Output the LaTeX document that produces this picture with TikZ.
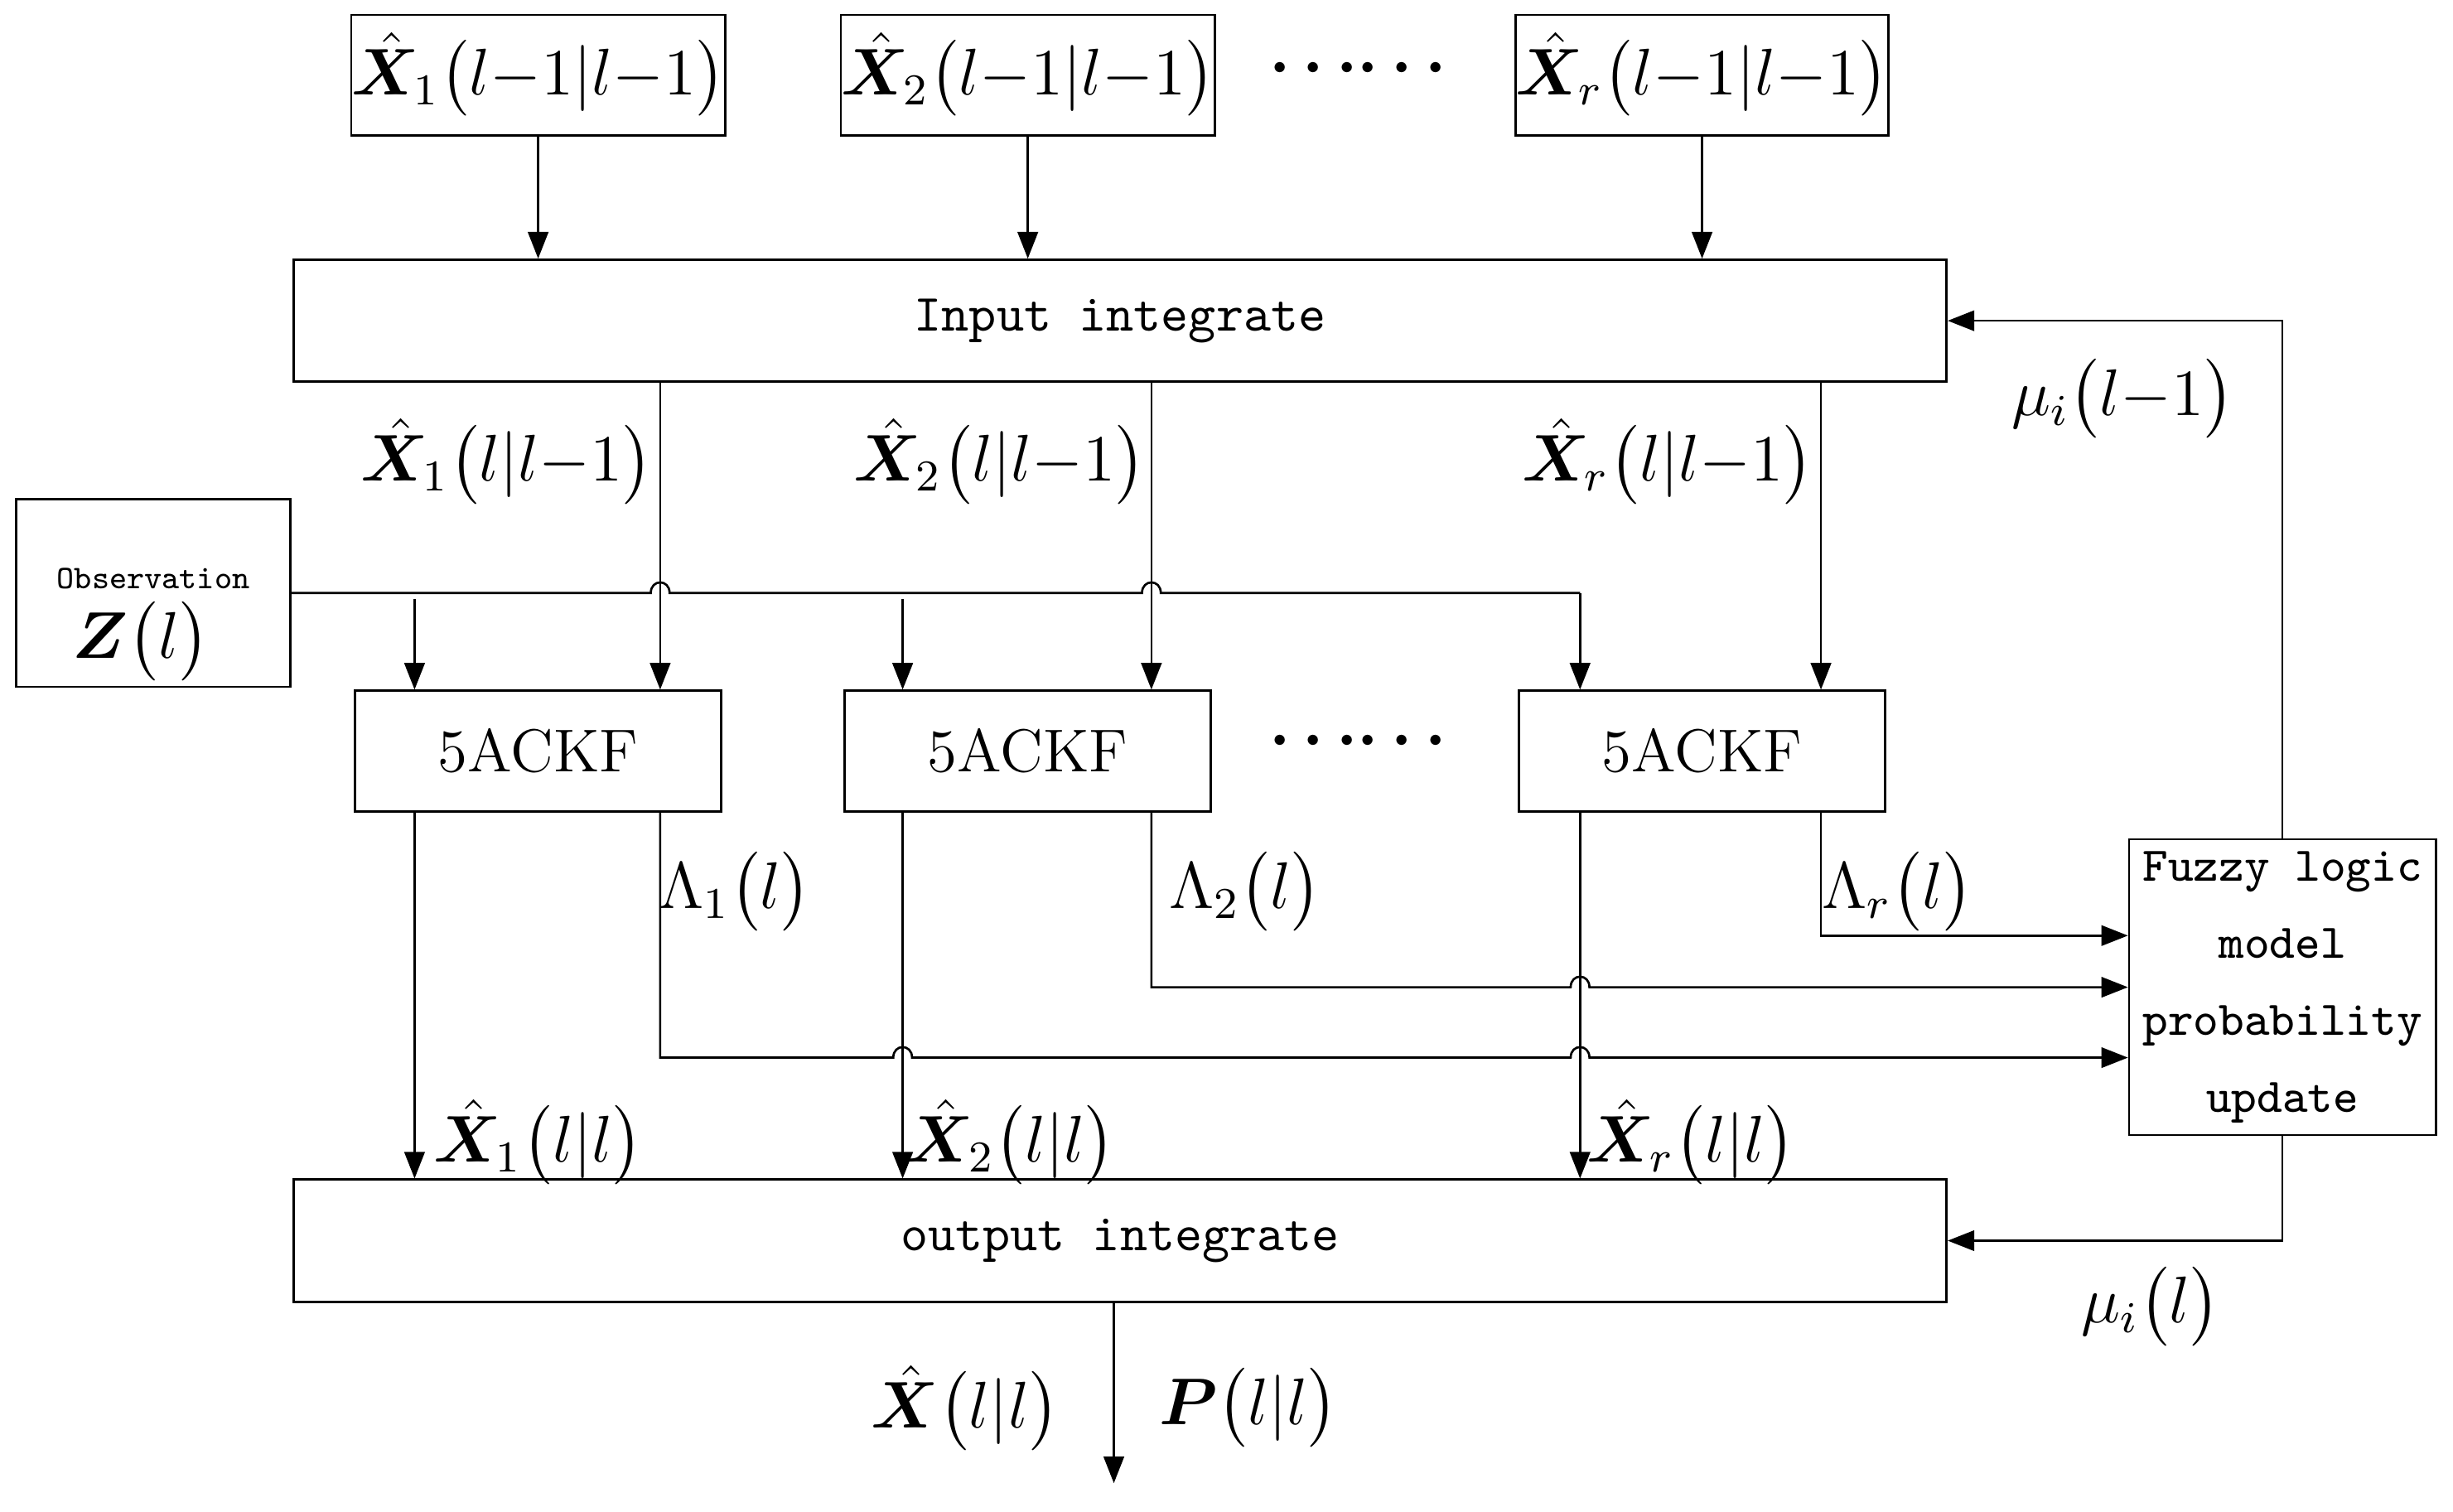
\documentclass[tikz,border=0pt]{standalone}
\usepackage{amsmath,amssymb,bm}
\usepackage{tikz}
\usetikzlibrary{arrows.meta,calc}
\newcommand{\Xh}{\hat{\bm{X}}}

\begin{document}
\begin{tikzpicture}[x=0.01cm,y=-0.01cm,
    every node/.style={font=\fontsize{12}{14}\selectfont},
    box/.style={draw,minimum width=2.34cm,minimum height=0.77cm,inner sep=0pt},
    bar/.style={draw,minimum width=10.56cm,minimum height=0.78cm,inner sep=0pt,font=\ttfamily\fontsize{9.5}{11}\selectfont},
    arr/.style={-{Triangle[length=1.7mm,width=1.3mm]}},
    lbl/.style={inner sep=0pt}]

    \useasboundingbox (0,0) rectangle (1568,966);

    % estimates of the previous step
    \node[box,font=\fontsize{11.5}{14}\selectfont] (top1) at (344,48) {$\Xh_1\bigl(l{-}1|l{-}1\bigr)$};
    \node[box,font=\fontsize{11.5}{14}\selectfont] (top2) at (657,48) {$\Xh_2\bigl(l{-}1|l{-}1\bigr)$};
    \node[box,font=\fontsize{11.5}{14}\selectfont] (topr) at (1088,48) {$\Xh_r\bigl(l{-}1|l{-}1\bigr)$};
    \node[lbl] (dotsa) at (872,44) {$\boldsymbol{\cdots\cdots}$};

    \node[bar] (inp) at (716,205) {Input integrate};

    \draw[arr] (top1.south) -- (top1.south |- inp.north);
    \draw[arr] (top2.south) -- (top2.south |- inp.north);
    \draw[arr] (topr.south) -- (topr.south |- inp.north);

    % observation
    \node[draw,minimum width=1.75cm,minimum height=1.2cm,inner sep=0pt] (obs) at (98,379) {};
    \node[lbl,font=\ttfamily\fontsize{6}{7}\selectfont] (obst) at (98,370) {Observation};
    \node[lbl] (obsz) at (90,410) {$\bm{Z}\bigl(l\bigr)$};

    % filters
    \node[box,font=\fontsize{11}{13}\selectfont] (kf1) at (344,480) {5ACKF};
    \node[box,font=\fontsize{11}{13}\selectfont] (kf2) at (657,480) {5ACKF};
    \node[box,font=\fontsize{11}{13}\selectfont] (kfr) at (1088,480) {5ACKF};
    \node[lbl] (dotsb) at (872,474) {$\boldsymbol{\cdots\cdots}$};

    \coordinate (p1) at (422,243);
    \coordinate (p2) at (736,243);
    \coordinate (pr) at (1164,243);
    \draw[arr] (p1) -- (p1 |- kf1.north);
    \draw[arr] (p2) -- (p2 |- kf2.north);
    \draw[arr] (pr) -- (pr |- kfr.north);
    \node[lbl] (lp1) at (324,295) {$\Xh_1\bigl(l|l{-}1\bigr)$};
    \node[lbl] (lp2) at (639,295) {$\Xh_2\bigl(l|l{-}1\bigr)$};
    \node[lbl] (lpr) at (1066,295) {$\Xh_r\bigl(l|l{-}1\bigr)$};

    % observation line with hops
    \coordinate (z1) at (265,379);
    \coordinate (z2) at (577,379);
    \coordinate (zr) at (1010,379);
    \draw (obs.east |- z1) -- (416,379) .. controls +(0,-9) and +(0,-9) .. (428,379)
        -- (730,379) .. controls +(0,-9) and +(0,-9) .. (742,379) -- (zr);
    \draw[arr] (zr) -- (zr |- kfr.north);
    \draw[arr] ($(z1)+(0,4)$) -- (z1 |- kf1.north);
    \draw[arr] ($(z2)+(0,4)$) -- (z2 |- kf2.north);

    % fuzzy logic
    \node[draw,minimum width=1.96cm,minimum height=1.89cm,inner sep=0pt,align=center,
          font=\ttfamily\fontsize{8.8}{14}\selectfont] (fuz) at (1459,631)
          {Fuzzy logic\\model\\probability\\update};

    \node[bar] (out) at (716,793) {output integrate};

    % filtered estimates
    \draw[arr] (z1 |- kf1.south) -- (z1 |- out.north);
    \draw[arr] (z2 |- kf2.south) -- (z2 |- out.north);
    \draw[arr] (zr |- kfr.south) -- (zr |- out.north);
    \node[lbl] (lf1) at (344,730) {$\Xh_1\bigl(l|l\bigr)$};
    \node[lbl] (lf2) at (646,730) {$\Xh_2\bigl(l|l\bigr)$};
    \node[lbl] (lfr) at (1081,730) {$\Xh_r\bigl(l|l\bigr)$};

    % likelihoods
    \draw[arr] (p1 |- kf1.south) -- (422,676) -- (571,676) .. controls +(0,-9) and +(0,-9) .. (583,676)
        -- (1004,676) .. controls +(0,-9) and +(0,-9) .. (1016,676) -- (fuz.west |- 0,676);
    \draw[arr] (p2 |- kf2.south) -- (736,631) -- (1004,631) .. controls +(0,-9) and +(0,-9) .. (1016,631)
        -- (fuz.west |- 0,631);
    \draw[arr] (pr |- kfr.south) -- (1164,598) -- (fuz.west |- 0,598);
    \node[lbl] (la1) at (470,570) {$\Lambda_1\bigl(l\bigr)$};
    \node[lbl] (la2) at (796,570) {$\Lambda_2\bigl(l\bigr)$};
    \node[lbl] (lar) at (1213,570) {$\Lambda_r\bigl(l\bigr)$};

    % model probabilities
    \draw[arr] (fuz.north) -- (fuz.north |- inp.east) -- (inp.east);
    \draw[arr] (fuz.south) -- (fuz.south |- out.east) -- (out.east);
    \node[lbl] (mu1) at (1357,255) {$\mu_i\bigl(l{-}1\bigr)$};
    \node[lbl] (mu2) at (1375,835) {$\mu_i\bigl(l\bigr)$};

    % output
    \coordinate (o) at (712,948);
    \draw[arr] (out.south -| o) -- (o);
    \node[lbl] (lx) at (617,900) {$\hat{\bm{X}}\bigl(l|l\bigr)$};
    \node[lbl] (lpp) at (798,900) {$\bm{P}\bigl(l|l\bigr)$};

\end{tikzpicture}
\end{document}
